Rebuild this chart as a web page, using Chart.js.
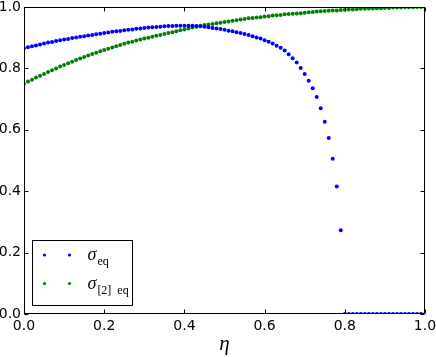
<!DOCTYPE html>
<html>
<head>
<meta charset="utf-8">
<script src="https://cdn.jsdelivr.net/npm/chart.js@4"></script>
<style>
html,body{margin:0;padding:0;background:#fff;}
#wrap{width:436px;height:357px;}
</style>
</head>
<body>
<div id="wrap"><canvas id="c" width="436" height="357"></canvas></div>
<script>
const eta = [0.00,0.01,0.02,0.03,0.04,0.05,0.06,0.07,0.08,0.09,
0.10,0.11,0.12,0.13,0.14,0.15,0.16,0.17,0.18,0.19,
0.20,0.21,0.22,0.23,0.24,0.25,0.26,0.27,0.28,0.29,
0.30,0.31,0.32,0.33,0.34,0.35,0.36,0.37,0.38,0.39,
0.40,0.41,0.42,0.43,0.44,0.45,0.46,0.47,0.48,0.49,
0.50,0.51,0.52,0.53,0.54,0.55,0.56,0.57,0.58,0.59,
0.60,0.61,0.62,0.63,0.64,0.65,0.66,0.67,0.68,0.69,
0.70,0.71,0.72,0.73,0.74,0.75,0.76,0.77,0.78,0.79,
0.80,0.81,0.82,0.83,0.84,0.85,0.86,0.87,0.88,0.89,
0.90,0.91,0.92,0.93,0.94,0.95,0.96,0.97,0.98,0.99,1.00];

const sigmaEq = [0.866,0.869,0.872,0.875,0.878,0.881,0.884,0.886,0.889,0.892,
0.894,0.896,0.899,0.901,0.903,0.905,0.907,0.909,0.911,0.913,
0.915,0.917,0.919,0.921,0.922,0.924,0.926,0.927,0.929,0.930,
0.932,0.933,0.934,0.935,0.936,0.937,0.938,0.938,0.939,0.939,
0.939,0.939,0.939,0.938,0.937,0.936,0.934,0.932,0.930,0.928,
0.926,0.923,0.921,0.918,0.915,0.912,0.909,0.905,0.901,0.897,
0.892,0.887,0.881,0.874,0.867,0.858,0.846,0.833,0.819,0.801,
0.782,0.760,0.735,0.707,0.670,0.626,0.573,0.506,0.415,0.273,
0,0,0,0,0,0,0,0,0,0,
0,0,0,0,0,0,0,0,0,0,0];

const sigma2Eq = [0.750,0.757,0.763,0.770,0.776,0.782,0.788,0.794,0.800,0.806,
0.811,0.817,0.822,0.827,0.832,0.837,0.842,0.847,0.851,0.856,
0.860,0.864,0.868,0.872,0.876,0.880,0.884,0.887,0.891,0.894,
0.897,0.900,0.903,0.906,0.909,0.912,0.915,0.918,0.921,0.924,
0.927,0.930,0.933,0.936,0.939,0.941,0.943,0.945,0.947,0.949,
0.951,0.953,0.955,0.957,0.959,0.961,0.963,0.964,0.966,0.967,
0.969,0.970,0.972,0.973,0.974,0.976,0.977,0.978,0.979,0.980,
0.981,0.983,0.984,0.985,0.986,0.987,0.988,0.989,0.989,0.990,
0.991,0.992,0.992,0.993,0.994,0.994,0.995,0.995,0.996,0.996,
0.997,0.997,0.998,0.998,0.998,0.999,0.999,0.999,1.000,1.000,1.000];

const tickValues = [0.0,0.2,0.4,0.6,0.8,1.0];
const xTitle = 'η';
const seriesNames = [{main:'σ', sub:'eq'},{main:'σ', sub:'[2]  eq'}];
const seriesColors = ['#0000ff','#008000'];

function pts(ys){ return eta.map((x,i)=>({x:x,y:ys[i]})); }

const framePlugin = {
  id:'frame',
  afterDatasetsDraw(chart){
    const {ctx, chartArea:a, scales} = chart;
    ctx.save();
    ctx.strokeStyle='#000';
    ctx.lineWidth=1;
    const l=Math.round(a.left)+0.5, t=Math.round(a.top)+0.5, r=Math.round(a.right)-0.5, b=Math.round(a.bottom)-0.5;
    ctx.strokeRect(l, t, r-l, b-t);
    ctx.beginPath();
    const L=4;
    tickValues.forEach(v=>{
      const x=Math.round(scales.x.getPixelForValue(v))+0.5;
      ctx.moveTo(x,b); ctx.lineTo(x,b-L);
      ctx.moveTo(x,t); ctx.lineTo(x,t+L);
      const y=Math.round(scales.y.getPixelForValue(v))+0.5;
      ctx.moveTo(l,y); ctx.lineTo(l+L,y);
      ctx.moveTo(r,y); ctx.lineTo(r-L,y);
    });
    ctx.stroke();
    // legend
    const bx=Math.round(a.left)+8.5, by=Math.round(a.bottom)-73.5, bw=100, bh=65;
    ctx.fillStyle='#fff';
    ctx.fillRect(bx,by,bw,bh);
    ctx.strokeRect(bx,by,bw,bh);
    const rows=[by+14.5, by+43];
    rows.forEach((ry,i)=>{
      ctx.fillStyle=seriesColors[i];
      [bx+12, bx+37].forEach(dx=>{
        ctx.beginPath(); ctx.arc(dx,ry,1.6,0,Math.PI*2); ctx.fill();
      });
      ctx.fillStyle='#000';
      ctx.textBaseline='alphabetic';
      ctx.textAlign='left';
      ctx.font='italic 18px "Liberation Serif", serif';
      const tx=bx+55;
      ctx.fillText(seriesNames[i].main, tx, ry+5);
      const w=ctx.measureText(seriesNames[i].main).width;
      ctx.font='12px "Liberation Serif", serif';
      ctx.fillText(seriesNames[i].sub, tx+w+1, ry+10);
    });
    ctx.restore();
  }
};

function noPad(s){ s.paddingTop=0; s.paddingBottom=0; s.paddingLeft=0; s.paddingRight=0; }

new Chart(document.getElementById('c'), {
  type:'scatter',
  data:{datasets:[
    {label:'σ eq', data:pts(sigmaEq), backgroundColor:seriesColors[0], borderColor:seriesColors[0], pointRadius:2, pointBorderWidth:0, pointStyle:'circle'},
    {label:'σ [2] eq', data:pts(sigma2Eq), backgroundColor:seriesColors[1], borderColor:seriesColors[1], pointRadius:2, pointBorderWidth:0, pointStyle:'circle'}
  ]},
  options:{
    responsive:false,
    animation:false,
    devicePixelRatio:1,
    layout:{padding:{top:7,right:11,left:0,bottom:0}},
    plugins:{legend:{display:false}, tooltip:{enabled:false}},
    scales:{
      x:{type:'linear', min:0, max:1,
        grid:{display:false, drawTicks:false},
        border:{display:false},
        afterFit(s){ s.height=43; noPad(s); },
        afterBuildTicks(s){ s.ticks = tickValues.map(v=>({value:v})); },
        ticks:{padding:4, color:'#000', font:{family:'"DejaVu Sans"', size:14}, callback:v=>v.toFixed(1), maxRotation:0, autoSkip:false},
        title:{display:true, text:xTitle, color:'#000', font:{family:'"Liberation Serif", serif', size:21, style:'italic'}, padding:{top:0,bottom:0}}
      },
      y:{type:'linear', min:0, max:1,
        grid:{display:false, drawTicks:false},
        border:{display:false},
        afterFit(s){ s.width=24; noPad(s); },
        afterBuildTicks(s){ s.ticks = tickValues.map(v=>({value:v})); },
        ticks:{padding:3, color:'#000', font:{family:'"DejaVu Sans"', size:14}, callback:v=>v.toFixed(1), autoSkip:false}
      }
    }
  },
  plugins:[framePlugin]
});
</script>
</body>
</html>
